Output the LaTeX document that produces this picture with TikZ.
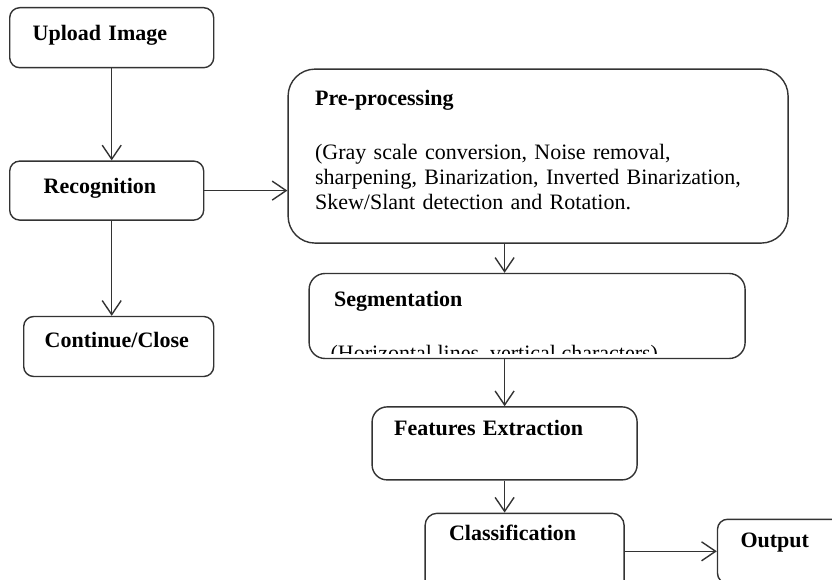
\documentclass[tikz,border=0pt]{standalone}
\usepackage{fontspec}
\setmainfont{Liberation Serif}
\usetikzlibrary{positioning,arrows.meta}

\begin{document}
\begin{tikzpicture}[x=1pt, y=-1pt,
  box/.style={draw=black!80, line width=1.4pt, rounded corners=10pt, inner ysep=0pt, align=left, font=\fontsize{22}{25}\selectfont\bfseries},
  single/.style={text height=15pt},
  flow/.style={-{Straight Barb[length=14pt,width=19pt]}, draw=black!80, line width=1.4pt}]
\clip (0,0) rectangle (832,580);
\node [box, single, minimum height=60pt, inner xsep=23pt, text width=158pt, text depth=10pt, anchor=north west] (upload) at (9,7) {Upload Image};
\node [box, single, minimum height=59pt, inner xsep=34pt, text width=126pt, text depth=9pt] (recog) [below=92pt of upload.south west, anchor=north west] {Recognition};
\node [box, single, minimum height=60pt, inner xsep=21pt, text width=148pt, text depth=14pt] (cont) [below right=95pt and 14pt of recog.south west, anchor=north west] {Continue/Close};
\node [box, font=\fontsize{22}{25}\selectfont, rounded corners=27pt, minimum height=174pt, inner xsep=27pt, text width=446pt, text depth=116pt] (pre) [right=73pt of upload.south east, anchor=north west]
  {\textbf{Pre-processing}\\[29pt](Gray scale conversion, Noise removal,\\sharpening, Binarization, Inverted Binarization,\\Skew/Slant detection and Rotation.};
\node [box, single, rounded corners=16pt, minimum height=85pt, inner xsep=25pt, text width=386pt, text depth=35pt] (seg) [below right=29pt and 21pt of pre.south west, anchor=north west] {Segmentation};
\node [box, single, rounded corners=15pt, minimum height=73pt, inner xsep=22pt, text width=221pt, text depth=31pt] (feat) [below right=47pt and 63pt of seg.south west, anchor=north west] {Features Extraction};
\node [box, single, rounded corners=12pt, minimum height=92pt, inner xsep=24pt, text width=151pt, text depth=52pt] (cls) [below right=32pt and 53pt of feat.south west, anchor=north west] {Classification};
\node [box, single, minimum height=64pt, inner xsep=23pt, text width=90pt, text depth=22pt] (out) [right=92pt of cls.north east, anchor=north west, yshift=-6pt] {Output};
% second line of the segmentation box is cut off
\begin{scope}
\clip (seg.north west) rectangle ([yshift=6pt]seg.south east);
\node [anchor=base west, inner sep=0pt, font=\fontsize{22}{25}\selectfont] (segnote) at ([xshift=22pt, yshift=-87.5pt]seg.north west) {(Horizontal lines, vertical characters)};
\end{scope}
\draw [flow] (upload.south) -- (upload.south |- recog.north);
\draw [flow] (upload.south |- recog.south) -- (upload.south |- cont.north);
\draw [flow] (recog.east) -- (recog.east -| pre.west);
\draw [flow] (feat.north |- pre.south) -- (feat.north |- seg.north);
\draw [flow] (seg.south -| feat.north) -- (feat.north);
\draw [flow] (feat.south) -- (feat.south |- cls.north);
\draw [flow] (out.west -| cls.east) -- (out.west);
\end{tikzpicture}
\end{document}
